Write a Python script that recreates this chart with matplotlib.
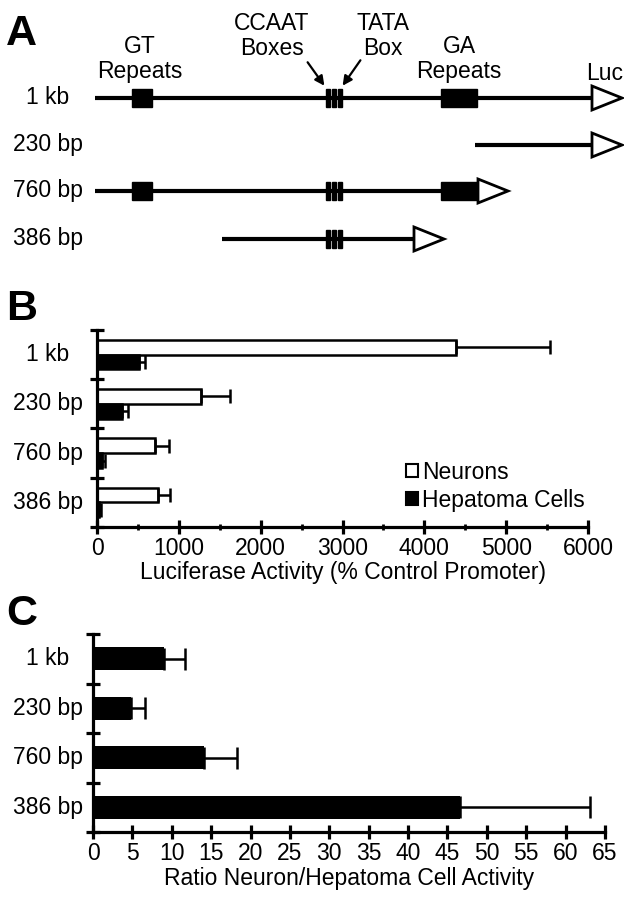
"""Promoter deletion constructs and luciferase activity in neurons vs hepatoma cells."""
import matplotlib.pyplot as plt
from matplotlib.patches import Patch, Rectangle, Polygon
from matplotlib.transforms import blended_transform_factory

FS = 16.5
plt.rcParams.update(
    {
        "font.family": ["Liberation Sans", "DejaVu Sans"],
        "font.size": FS,
        "axes.linewidth": 2.3,
        "xtick.major.width": 2.3,
        "ytick.major.width": 2.3,
        "xtick.minor.width": 2.0,
    }
)

CONSTRUCTS = ["1 kb", "230 bp", "760 bp", "386 bp"]

# schematic (panel A), in drawing units
ROW_Y = [98, 145, 191, 239]
LINE_START = [95, 475, 95, 222]
ARROW_BASE = [592, 592, 478, 414]
HAS_GT = [True, False, True, False]
HAS_BOXES = [True, False, True, True]
HAS_GA = [True, False, True, False]
GT_SPAN = (132, 152)
GA_SPAN = (441, 477)
BOX_BARS = [326, 332, 338]
FEATURE_LABELS = ["GT\nRepeats", "CCAAT\nBoxes", "TATA\nBox", "GA\nRepeats", "Luc"]
FEATURE_X = [140, 272, 383, 459, 605]
FEATURE_TOP = [35, 12, 12, 35, 62]

# panel B: luciferase activity (% control promoter)
NEURONS = [4390, 1270, 713, 747]
NEURONS_ERR = [1150, 355, 170, 150]
HEPATOMA = [519, 300, 58, 24]
HEPATOMA_ERR = [73, 73, 34, 20]

# panel C: ratio neuron / hepatoma
RATIO = [9.0, 4.8, 14.1, 46.6]
RATIO_ERR = [2.7, 1.8, 4.2, 16.5]

W, H = 624, 899
fig = plt.figure(figsize=(W / 100, H / 100), dpi=100)

# ---------------- panel A ----------------
axA = fig.add_axes([0, 1 - 300 / H, 1, 300 / H])
axA.set_xlim(0, W)
axA.set_ylim(300, 0)
axA.axis("off")

for i, name in enumerate(CONSTRUCTS):
    y = ROW_Y[i]
    axA.plot([LINE_START[i], ARROW_BASE[i]], [y, y], color="black", lw=3.0, solid_capstyle="butt", zorder=1)
    if HAS_GT[i]:
        axA.add_patch(Rectangle((GT_SPAN[0], y - 9), GT_SPAN[1] - GT_SPAN[0], 18, color="black", zorder=2))
    if HAS_GA[i]:
        axA.add_patch(Rectangle((GA_SPAN[0], y - 9), GA_SPAN[1] - GA_SPAN[0], 18, color="black", zorder=2))
    if HAS_BOXES[i]:
        for bx in BOX_BARS:
            axA.add_patch(Rectangle((bx, y - 9), 4, 18, color="black", zorder=2))
    xb = ARROW_BASE[i]
    axA.add_patch(
        Polygon([(xb, y - 12), (xb, y + 12), (xb + 30, y)], closed=True,
                facecolor="white", edgecolor="black", lw=2.0, zorder=3)
    )
    axA.text(48, y, name, ha="center", va="center", fontsize=FS)

for label, x, top in zip(FEATURE_LABELS, FEATURE_X, FEATURE_TOP):
    axA.text(x, top, label, ha="center", va="top", fontsize=FS, linespacing=1.1)

axA.annotate("", xy=(326, 88), xytext=(306, 60),
             arrowprops=dict(arrowstyle="-|>", color="black", lw=1.6, mutation_scale=14))
axA.annotate("", xy=(341, 88), xytext=(362, 58),
             arrowprops=dict(arrowstyle="-|>", color="black", lw=1.6, mutation_scale=14))


def style_axis(ax):
    ax.spines["top"].set_visible(False)
    ax.spines["right"].set_visible(False)
    ax.set_ylim(len(CONSTRUCTS), 0)
    ax.set_yticks(range(len(CONSTRUCTS) + 1))
    ax.set_yticklabels([])
    ax.tick_params(axis="y", direction="inout", length=10)
    ax.tick_params(axis="x", direction="inout", length=10, pad=2, labelsize=FS)
    ax.patch.set_alpha(0)
    tr = blended_transform_factory(fig.transFigure, ax.transData)
    for i, name in enumerate(CONSTRUCTS):
        ax.text(48 / W, i + 0.5, name, transform=tr, ha="center", va="center", fontsize=FS)


# ---------------- panel B ----------------
axB = fig.add_axes([97 / W, 1 - 527 / H, 491 / W, 197 / H])
style_axis(axB)
centers = [i + 0.5 for i in range(len(CONSTRUCTS))]
h = 0.3
err_kw = dict(ecolor="black", elinewidth=1.8, capsize=5, capthick=1.8)
axB.barh([c - h / 2 for c in centers], NEURONS, height=h, color="white", edgecolor="black", lw=1.8,
         xerr=[[0] * 4, NEURONS_ERR], error_kw=err_kw, label="Neurons")
axB.barh([c + h / 2 for c in centers], HEPATOMA, height=h, color="black", edgecolor="black", lw=1.8,
         xerr=[[0] * 4, HEPATOMA_ERR], error_kw=err_kw, label="Hepatoma Cells")
axB.set_xlim(0, 6000)
axB.set_xticks(range(0, 6001, 1000))
axB.set_xticks(range(500, 6000, 1000), minor=True)
axB.tick_params(axis="x", which="minor", direction="inout", length=5)
axB.set_xlabel("Luciferase Activity (% Control Promoter)", labelpad=1, fontsize=FS)
handles = [Patch(facecolor="white", edgecolor="black", lw=1.5, label="Neurons"),
           Patch(facecolor="black", edgecolor="black", lw=1.5, label="Hepatoma Cells")]
axB.legend(handles=handles, loc="upper left", bbox_to_anchor=(0.63, 0.335), frameon=False,
           handlelength=0.5, handleheight=0.5, handletextpad=0.2, labelspacing=0.2,
           borderpad=0, borderaxespad=0, fontsize=FS)

# ---------------- panel C ----------------
axC = fig.add_axes([93 / W, 1 - 832 / H, 512 / W, 198 / H])
style_axis(axC)
axC.barh(centers, RATIO, height=0.46, color="black",
         xerr=[[0] * 4, RATIO_ERR],
         error_kw=dict(ecolor="black", elinewidth=1.8, capsize=8, capthick=1.8))
axC.set_xlim(0, 65)
axC.set_xticks(range(0, 66, 5))
axC.set_xlabel("Ratio Neuron/Hepatoma Cell Activity", labelpad=2, fontsize=FS)

for letter, y in zip("ABC", [14, 289, 594]):
    fig.text(6 / W, 1 - y / H, letter, fontsize=31, fontweight="bold", ha="left", va="top")

fig.savefig("out.png", dpi=100)
